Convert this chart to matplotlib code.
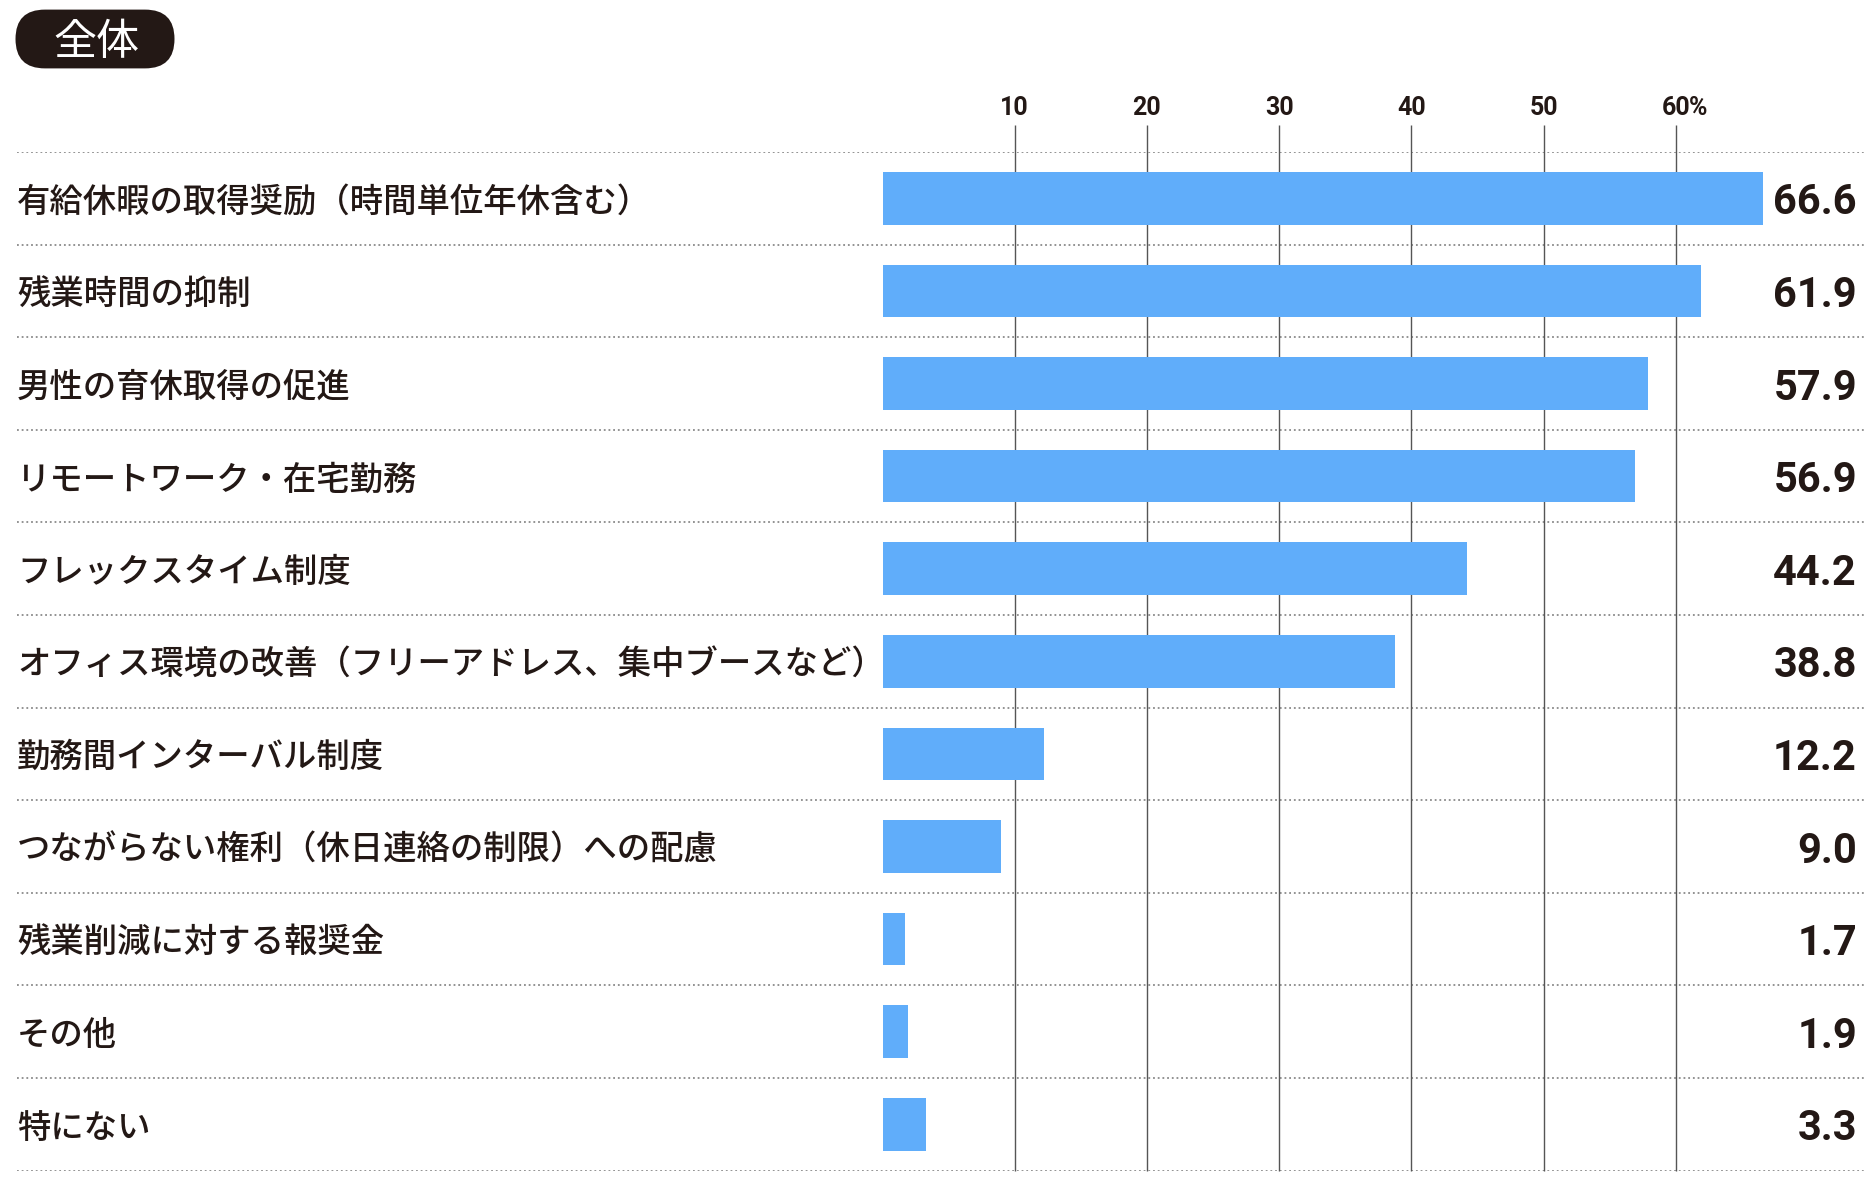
import matplotlib.pyplot as plt
from matplotlib.patches import FancyBboxPatch

# data
labels = ['有給休暇の取得奨励（時間単位年休含む）', '残業時間の抑制', '男性の育休取得の促進',
          'リモートワーク・在宅勤務', 'フレックスタイム制度',
          'オフィス環境の改善（フリーアドレス、集中ブースなど）', '勤務間インターバル制度',
          'つながらない権利（休日連絡の制限）への配慮', '残業削減に対する報奨金', 'その他', '特にない']
values = [66.6, 61.9, 57.9, 56.9, 44.2, 38.8, 12.2, 9.0, 1.7, 1.9, 3.3]
ticks = [10, 20, 30, 40, 50, 60]
badge = '全体'

TXT = '#231815'
BAR = '#60adfa'
W, H = 1875, 1188

fig = plt.figure(figsize=(W / 100, H / 100), dpi=100)
# axes spans full label area; x=0 sits at 882.5px, 10 units = 132.2px
left_px, right_px, top_px, bot_px = 17, 1866, 152, 1170.6
ax = fig.add_axes([left_px / W, 1 - bot_px / H, (right_px - left_px) / W, (bot_px - top_px) / H])
unit = 13.22
ax.set_xlim(-(882.5 - left_px) / unit, (right_px - 882.5) / unit)
n = len(labels)
ax.set_ylim(n, 0)
ax.axis('off')

ypos = [i + 0.5 for i in range(n)]
ax.barh(ypos, values, height=0.57, color=BAR, zorder=3)

# vertical grid lines
ax.vlines(ticks, -0.29, n, color='#555555', lw=1.0, zorder=2, clip_on=False)
for t in ticks:
    ax.text(t, -0.47, str(t), ha='center', va='center', fontsize=18, fontweight='bold',
            family='Roboto', color=TXT, clip_on=False)
ax.text(ticks[-1] + 1.0, -0.47, '%', ha='left', va='center', fontsize=18, fontweight='bold',
        family='Roboto', color=TXT, clip_on=False)

# dotted row separators
for k in range(n + 1):
    ax.axhline(k, color='#8a8a8a', lw=1.3, linestyle=(0, (1, 1.6)), zorder=1)

tr = ax.get_yaxis_transform()
for y, lab, v in zip(ypos, labels, values):
    ax.text(0, y + 0.04, lab, transform=tr, ha='left', va='center', fontsize=24, fontweight='medium',
            family=['Noto Sans CJK JP', 'DejaVu Sans'], color=TXT)
    ax.text(0.9951, y + 0.05, f'{v:.1f}', transform=tr, ha='right', va='center', fontsize=30,
            fontweight='bold', family='Roboto', color=TXT)

# badge
box = FancyBboxPatch((15.5 / 100, (H - 68.4) / 100), 1.59, 0.588,
                     boxstyle='round,pad=0,rounding_size=0.294',
                     transform=fig.dpi_scale_trans, facecolor=TXT, edgecolor='none')
fig.add_artist(box)
fig.text(96 / W, 1 - 43 / H, badge, ha='center', va='center', fontsize=31,
         family=['Noto Sans CJK JP', 'DejaVu Sans'], color='white')

fig.savefig('out.png', dpi=100)
